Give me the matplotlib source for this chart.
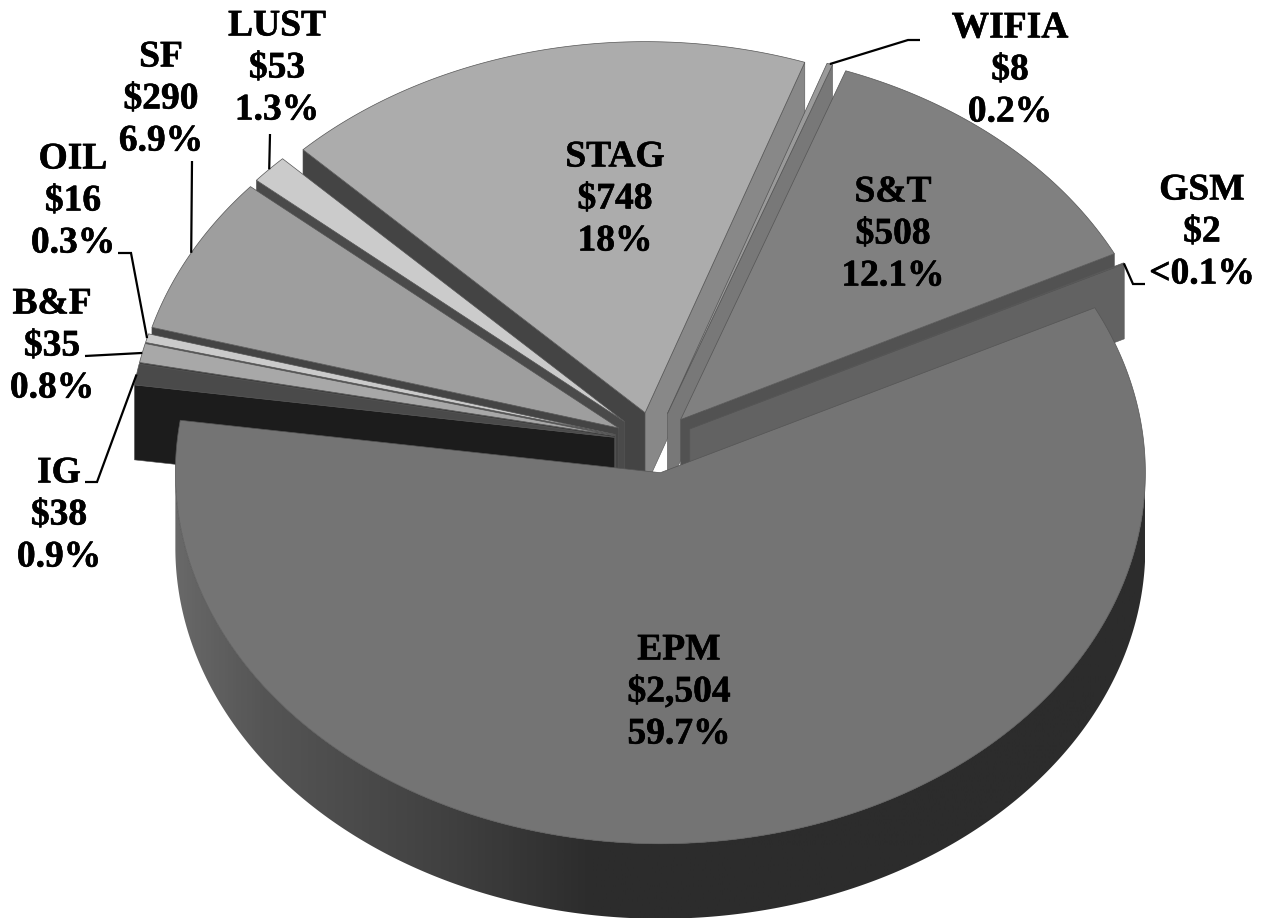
import numpy as np
import matplotlib
matplotlib.use("Agg")
import matplotlib.pyplot as plt
import matplotlib.patheffects as pe
from matplotlib.colors import LinearSegmentedColormap
from matplotlib.patches import Polygon

# === data ===
names = ["EPM", "IG", "B&F", "OIL", "SF", "LUST", "STAG", "WIFIA", "S&T", "GSM"]
values = [2504, 38, 35, 16, 290, 53, 748, 8, 508, 2]
amounts = ["$2,504", "$38", "$35", "$16", "$290", "$53", "$748", "$8", "$508", "$2"]
percents = ["59.7%", "0.9%", "0.8%", "0.3%", "6.9%", "1.3%", "18%", "0.2%", "12.1%", "<0.1%"]

# === colours per slice ===
top_col = ["#747474", "#4a4a4a", "#a8a8a8", "#cbcbcb", "#9e9e9e", "#cbcbcb", "#acacac", "#9a9a9a", "#808080", "#626262"]
ccw_col = ["#5a5a5a", "#1c1c1c", "#3c3c3c", "#555555", "#444444", "#4a4a4a", "#444444", "#787878", "#525252", "#626262"]
cw_col = ["#5a5a5a", "#2a2a2a", "#666666", "#888888", "#666666", "#888888", "#888888", "#787878", "#525252", "#626262"]

# label centres in pixels, leader knees
label_pos = [(679, 692), (59, 515), (52, 346), (73, 201), (161, 99), (277, 68), (615, 199), (1010, 70), (893, 234), (1202, 232)]
knees = [None, [(97, 482), (85, 482)], [(85, 356)], [(131, 253), (118, 253)], [(192, 161)], [(270, 134)],
         None, [(908, 40), (920, 40)], None, [(1133, 284), (1145, 284)]]

# === pie geometry in pixels ===
cx, cy = 654, 442.5
radius = 485
explode = 40
depth = 75
start = 26.4
squash = 0.765


def pt(ax0, ay0, r, t):
    t = np.asarray(t, dtype=float)
    return ax0 + r * np.cos(np.radians(t)), ay0 - r * np.sin(np.radians(t)) * squash


fig = plt.figure(figsize=(12.62, 9.18), dpi=100)
ax = fig.add_axes([0, 0, 1, 1])

# shading of the outer rim, left to right
rim_cmap = LinearSegmentedColormap.from_list("rim", [(0, "#686868"), (0.09, "#555555"), (0.19, "#4a4a4a"),
                                                     (0.29, "#3f3f3f"), (0.40, "#303030"), (0.43, "#2c2c2c"), (1, "#2c2c2c")])

sweeps = np.array(values) / sum(values) * 360
ends = start - np.cumsum(sweeps)      # clockwise
begins = ends + sweeps
mids = (begins + ends) / 2
apex = [pt(cx, cy, explode, m) for m in mids]

# === draw back to front ===
order = np.argsort([a[1] for a in apex])
for z, i in enumerate(order):
    ax0, ay0 = apex[i]
    # radial walls, only when they face us
    for t, col, facing in ((begins[i], ccw_col[i], np.cos(np.radians(begins[i])) < 0),
                           (ends[i], cw_col[i], np.cos(np.radians(ends[i])) > 0)):
        if facing:
            x1, y1 = pt(ax0, ay0, radius, t)
            ax.add_patch(Polygon([(ax0, ay0), (x1, y1), (x1, y1 + depth), (ax0, ay0 + depth)],
                                 fc=col, ec="#555555", lw=0.4, zorder=z + 1))
    ts = np.linspace(begins[i], ends[i], max(int(sweeps[i] * 2), 2))
    xs, ys = pt(ax0, ay0, radius, ts)
    # outer rim with gradient, near half only
    near = np.sin(np.radians(ts)) <= 0
    if near.sum() > 1:
        rim = np.vstack([np.column_stack([xs[near], ys[near]]),
                         np.column_stack([xs[near], ys[near] + depth])[::-1]])
        clip = Polygon(rim, fc="none", ec="none", transform=ax.transData)
        ax.add_patch(clip)
        img = ax.imshow(np.linspace(0, 1, 400)[None, :], cmap=rim_cmap, aspect="auto", zorder=z + 1,
                        extent=(xs.min(), xs.max(), rim[:, 1].max(), rim[:, 1].min()))
        img.set_clip_path(clip)
    # top face
    ax.add_patch(Polygon(np.vstack([[ax0, ay0], np.column_stack([xs, ys])]),
                         fc=top_col[i], ec="#555555", lw=0.5, zorder=z + 1))

# === leaders ===
for i, k in enumerate(knees):
    if k is None:
        continue
    x0, y0 = pt(apex[i][0], apex[i][1], radius, mids[i])
    ax.plot([x0] + [p[0] for p in k], [y0] + [p[1] for p in k], color="black", lw=1.6, zorder=30,
            solid_joinstyle="miter", solid_capstyle="butt")

# === labels ===
for i in range(len(names)):
    ax.text(label_pos[i][0], label_pos[i][1], f"{names[i]}\n{amounts[i]}\n{percents[i]}",
            family="Liberation Serif", weight="bold", fontsize=27, ha="center", va="center",
            linespacing=1.26, color="black", zorder=40,
            path_effects=[pe.withStroke(linewidth=0.4, foreground="black")])

ax.set_xlim(0, 1262)
ax.set_ylim(918, 0)
ax.axis("off")
fig.savefig("out.png", dpi=100, facecolor="white")
